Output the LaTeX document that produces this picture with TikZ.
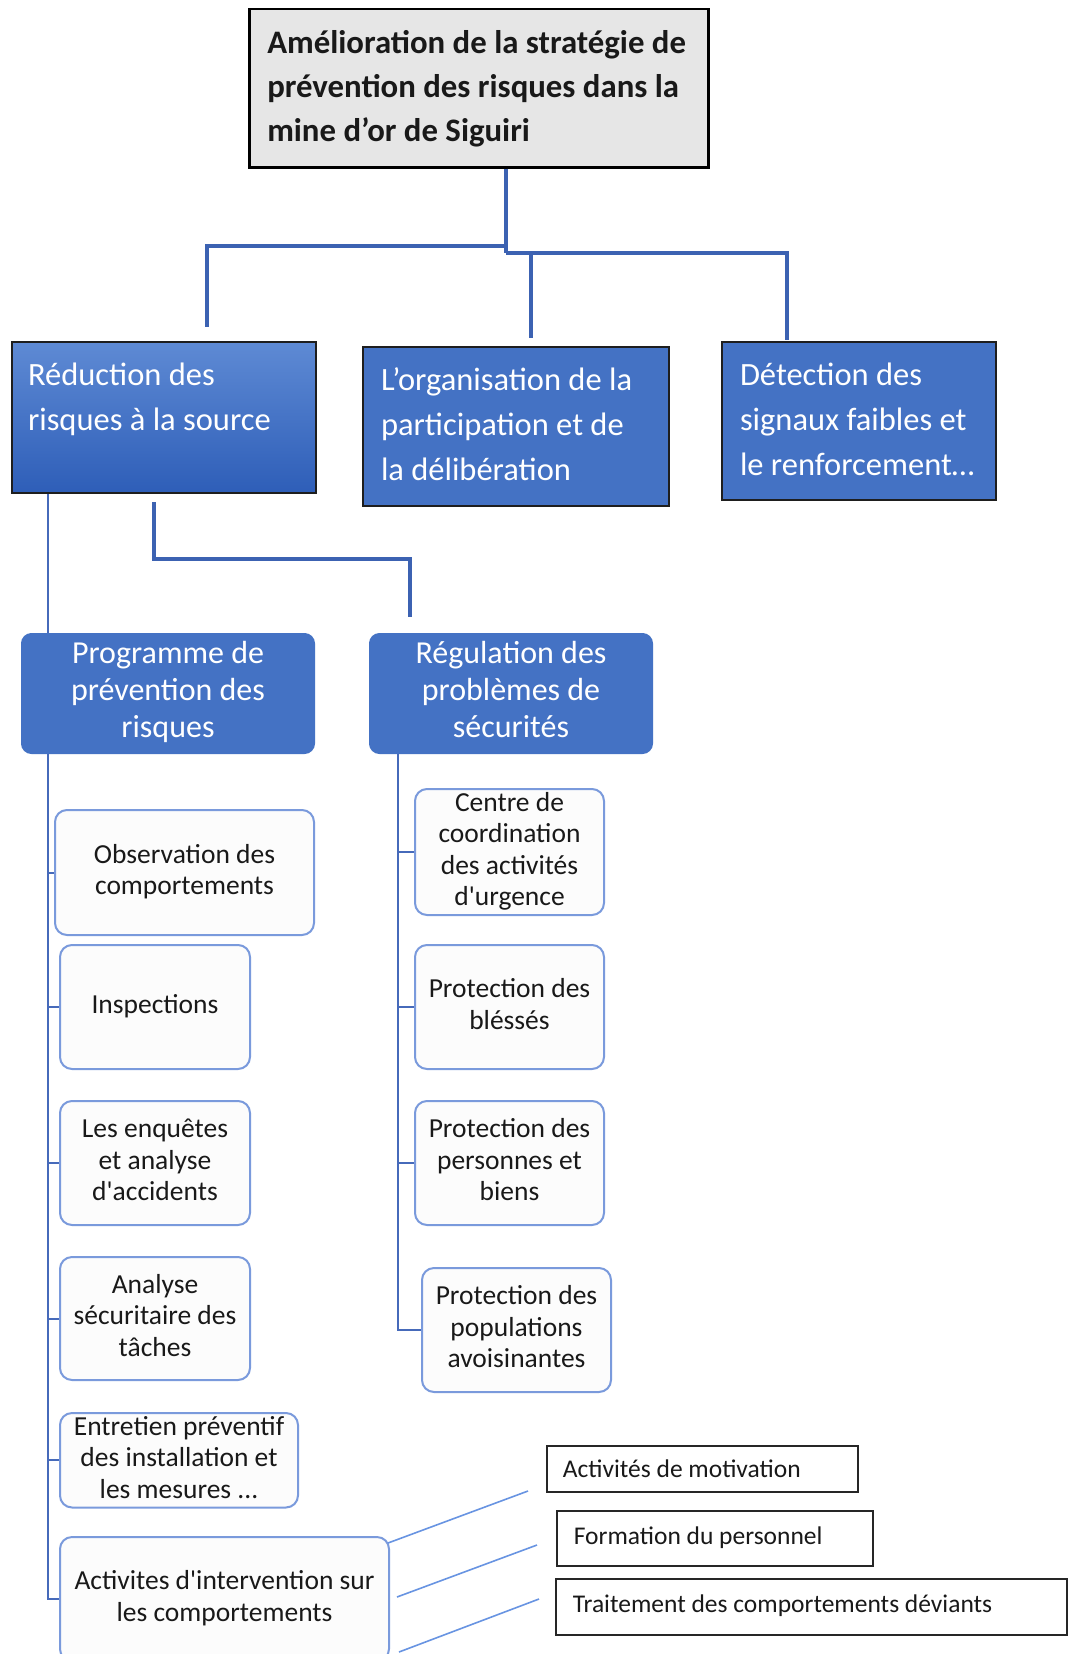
\documentclass[tikz,border=0pt]{standalone}
\usepackage{fontspec}
\setmainfont{Carlito}
\definecolor{topfill}{RGB}{230,230,230}
\definecolor{bluefill}{RGB}{68,114,196}
\definecolor{bluetop}{RGB}{94,138,212}
\definecolor{bluebot}{RGB}{46,94,184}
\definecolor{connblue}{RGB}{60,98,178}
\definecolor{thinblue}{RGB}{70,106,186}
\definecolor{childedge}{RGB}{122,154,220}
\definecolor{childfill}{RGB}{252,252,252}
\definecolor{diagblue}{RGB}{104,148,226}
\definecolor{darkedge}{RGB}{30,30,30}
\definecolor{txt}{RGB}{25,25,25}
\begin{document}
\begin{tikzpicture}[x=1pt,y=-1pt,
  topbox/.style={draw=black, line width=2.5pt, fill=topfill, anchor=north west, align=flush left,
    text width=423pt, inner xsep=18pt, inner ysep=0pt, text=txt,
    font=\fontsize{32.8}{44}\selectfont\bfseries},
  sharpbox/.style={draw=darkedge, line width=2pt, fill=bluefill, text=white, anchor=north west,
    align=flush left, inner ysep=0pt, font=\fontsize{32.5}{45}\selectfont},
  roundbox/.style={draw=bluefill, line width=1pt, fill=bluefill, rounded corners=10pt, text=white,
    anchor=north west, align=center, inner sep=0pt, font=\fontsize{32}{37}\selectfont},
  childbox/.style={draw=childedge, line width=2pt, fill=childfill, rounded corners=12pt,
    anchor=north west, align=center, inner sep=0pt, text=txt,
    font=\fontsize{27.5}{31.5}\selectfont},
  plainbox/.style={draw=black!85, line width=1.6pt, fill=white, anchor=north west, align=flush left,
    inner ysep=0pt, text=txt, font=\fontsize{25.5}{30}\selectfont},
  conn/.style={draw=connblue, line width=4pt},
  connb/.style={draw=connblue, line width=3.5pt},
  thinc/.style={draw=thinblue, line width=2pt},
  diag/.style={draw=diagblue, line width=1.6pt}
]
\useasboundingbox[fill=white] (0,0) rectangle (1069,1654);

% level 1
\node[topbox, minimum width=459pt, minimum height=158pt] (top) at (248,8)
  {\strut\mbox{Amélioration de la stratégie de}\\\mbox{prévention des risques dans la}\\mine d’or de Siguiri\strut};

% level 2
\node[sharpbox, top color=bluetop, bottom color=bluebot, minimum width=304pt, minimum height=151pt,
  inner xsep=16pt, inner ysep=11.5pt] (red) at (11,341)
  {\parbox[c][128pt][t]{272pt}{\raggedright\strut Réduction des\\risques à la source}};
\node[sharpbox, minimum width=306pt, minimum height=159pt, text width=270pt, inner xsep=18pt] (org) at (362,346)
  {\strut L’organisation de la\\participation et de\\la délibération\strut};
\node[sharpbox, minimum width=274pt, minimum height=158pt, text width=238pt, inner xsep=18pt] (det) at (721,341)
  {\strut\mbox{Détection des}\\\mbox{signaux faibles et}\\\mbox{le renforcement…}\strut};

% level 3
\node[roundbox, minimum width=293pt, minimum height=120pt] (prog) at (21,633)
  {\strut Programme de\\prévention des\\risques\strut};
\node[roundbox, minimum width=283pt, minimum height=120pt] (reg) at (369,633)
  {\strut Régulation des\\problèmes de\\sécurités\strut};

% children of Programme
\node[childbox, minimum width=259pt, minimum height=125pt] (obs) at (54,809)
  {\strut Observation des\\comportements\strut};
\node[childbox, minimum width=190pt, minimum height=124pt] (insp) at (59,944)
  {\strut Inspections\strut};
\node[childbox, minimum width=190pt, minimum height=124pt] (enq) at (59,1100)
  {\strut Les enquêtes\\et analyse\\d\textquotesingle accidents\strut};
\node[childbox, minimum width=190pt, minimum height=123pt] (ana) at (59,1256)
  {\strut Analyse\\sécuritaire des\\tâches\strut};
\node[childbox, minimum width=238pt, minimum height=93pt] (ent) at (59,1412)
  {\strut Entretien préventif\\des installation et\\les mesures ...\strut};
\node[childbox, minimum width=329pt, minimum height=124pt] (act) at (59,1536)
  {\strut Activites d\textquotesingle intervention sur\\les comportements\strut};

% children of Regulation
\node[childbox, minimum width=189pt, minimum height=125pt] (cen) at (414,788)
  {\strut Centre de\\coordination\\des activités\\d\textquotesingle urgence\strut};
\node[childbox, minimum width=189pt, minimum height=124pt] (bles) at (414,944)
  {\strut Protection des\\bléssés\strut};
\node[childbox, minimum width=189pt, minimum height=124pt] (pers) at (414,1100)
  {\strut Protection des\\personnes et\\biens\strut};
\node[childbox, minimum width=189pt, minimum height=124pt] (pop) at (421,1267)
  {\strut Protection des\\populations\\avoisinantes\strut};

% right boxes
\node[plainbox, minimum width=311pt, minimum height=46pt, text width=279pt, inner xsep=16pt] (mot) at (546,1445)
  {\raisebox{-3pt}[21pt][9pt]{\strut Activités de motivation}};
\node[plainbox, minimum width=316pt, minimum height=55pt, text width=282pt, inner xsep=17pt] (form) at (556,1510)
  {\strut Formation du personnel\strut};
\node[plainbox, minimum width=511pt, minimum height=56pt, text width=477pt, inner xsep=17pt] (trait) at (555,1578)
  {\strut Traitement des comportements déviants\strut};

% connectors level 1 -> 2
\coordinate (tx) at (506,246);
\coordinate (ty) at (506,253);
\coordinate (lend) at (207,327);
\coordinate (mend) at (531,338);
\coordinate (rend) at (787,340);
\draw[conn] (top.south -| tx) -- (ty);
\draw[conn] (tx) -| (lend);
\draw[conn] (ty) -| (rend);
\draw[conn] (mend |- ty) -- (mend);

% Reduction -> Regulation
\coordinate (r1) at (154,502);
\coordinate (r2) at (410,617);
\draw[connb] (r1) -- (154,559) -| (r2);

% left trunk
\coordinate (lx) at (48,0);
\draw[thinc] (red.south -| lx) -- (prog.north -| lx);
\draw[thinc] (prog.south -| lx) |- (act.west);
\foreach \n in {obs,insp,enq,ana,ent} \draw[thinc] (\n.west -| lx) -- (\n.west);

% regulation trunk
\coordinate (rx) at (398,0);
\draw[thinc] (reg.south -| rx) |- (pop.west);
\foreach \n in {cen,bles,pers} \draw[thinc] (\n.west -| rx) -- (\n.west);

% diagonals
\coordinate (d1a) at (388,1543); \coordinate (d1b) at (528,1491);
\coordinate (d2a) at (397,1597); \coordinate (d2b) at (537,1545);
\coordinate (d3a) at (399,1652); \coordinate (d3b) at (539,1599);
\draw[diag] (d1a) -- (d1b);
\draw[diag] (d2a) -- (d2b);
\draw[diag] (d3a) -- (d3b);
\end{tikzpicture}
\end{document}
